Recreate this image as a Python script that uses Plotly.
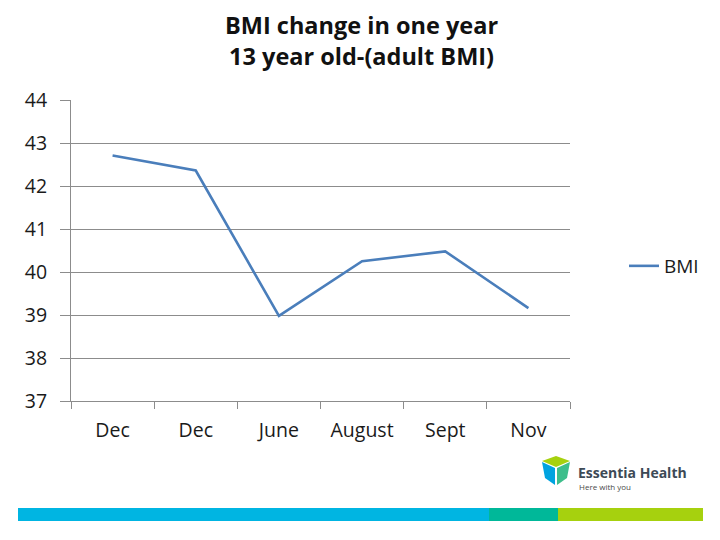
import plotly.graph_objects as go

months = ["Dec", "Dec", "June", "August", "Sept", "Nov"]
bmi = [42.71, 42.36, 38.98, 40.25, 40.48, 39.16]
y_ticks = [37, 38, 39, 40, 41, 42, 43, 44]
series_name = "BMI"
title_lines = ["BMI change in one year", "13 year old-(adult BMI)"]

# unique category keys (duplicate labels kept visually identical)
seen = {}
cats = []
for m in months:
    n = seen.get(m, 0)
    cats.append(m + "\u200b" * n)
    seen[m] = n + 1

FONT = "Open Sans, Lato, sans-serif"
OFF = 8  # page body margin
W, H = 720, 540
# plot area in page pixels
PX0, PX1, PY0, PY1 = 71, 570, 100, 401
L, T = PX0 - OFF, PY0 - OFF
R, B = W - (PX1 - OFF), H - (PY1 - OFF)
PW, PH = PX1 - PX0, PY1 - PY0


def px(xp, yp):
    return (xp - PX0) / PW, (PY1 - yp) / PH


fig = go.Figure()
fig.add_trace(go.Scatter(
    x=cats, y=bmi, mode="lines", name=series_name,
    line=dict(color="#4A7EBB", width=2.6),
))

fig.update_layout(
    width=W, height=H,
    paper_bgcolor="white", plot_bgcolor="white",
    margin=dict(l=L, r=R, t=T, b=B, autoexpand=False),
    font=dict(family=FONT, color="#1a1a1a"),
    showlegend=True,
    legend=dict(x=px(624, 0)[0], y=px(0, 266)[1], xanchor="left", yanchor="middle",
                font=dict(size=19, family=FONT, color="#1a1a1a"),
                bgcolor="rgba(0,0,0,0)", itemwidth=30),
    xaxis=dict(
        type="category", tickson="boundaries",
        range=[-0.5, len(cats) - 0.5],
        tickvals=cats, ticktext=months,
        showgrid=False, showline=True, linecolor="#8c8c8c", linewidth=1,
        ticks="outside", ticklen=7, tickcolor="#8c8c8c",
        tickfont=dict(size=19.5, family=FONT, color="#1a1a1a"),
        ticklabelstandoff=12,
    ),
    yaxis=dict(
        range=[37, 44], tickvals=y_ticks,
        showgrid=True, gridcolor="#8c8c8c", gridwidth=1,
        showline=True, linecolor="#8c8c8c", linewidth=1,
        ticks="outside", ticklen=10, tickcolor="#8c8c8c",
        tickfont=dict(size=19.5, family=FONT, color="#1a1a1a"),
        ticklabelstandoff=9, zeroline=False,
    ),
)

fig.add_annotation(xref="paper", yref="paper", x=px(361, 0)[0], y=px(0, 8)[1],
                   text="<br>".join(f"<b>{t}</b>" for t in title_lines),
                   showarrow=False, align="center",
                   xanchor="center", yanchor="top", borderpad=0,
                   font=dict(size=23.5, family=FONT, color="#111111"))

# bottom colour band
band = [(18, 489, "#00B5E2"), (489, 558, "#00B899"), (558, 703, "#A6D10E")]
for x0, x1, c in band:
    fig.add_shape(type="rect", xref="paper", yref="paper",
                  x0=px(x0, 0)[0], x1=px(x1, 0)[0],
                  y0=px(0, 521)[1], y1=px(0, 508)[1],
                  fillcolor=c, line=dict(width=0), layer="above")


def path(points):
    s = ""
    for i, (a, b) in enumerate(points):
        xx, yy = px(a, b)
        s += ("M" if i == 0 else "L") + f"{xx},{yy} "
    return s + "Z"


# logo icon (simplified cube)
fig.add_shape(type="path", xref="paper", yref="paper",
              path=path([(542, 461), (556, 456), (570, 461), (556, 467)]),
              fillcolor="#A6D10E", line=dict(width=0))
fig.add_shape(type="path", xref="paper", yref="paper",
              path=path([(542, 462), (555, 468), (555, 485), (545, 478)]),
              fillcolor="#00A3E0", line=dict(width=0))
fig.add_shape(type="path", xref="paper", yref="paper",
              path=path([(557, 468), (570, 462), (567, 478), (557, 485)]),
              fillcolor="#3DBE8B", line=dict(width=0))

fig.add_annotation(xref="paper", yref="paper", x=px(576, 0)[0], y=px(0, 472)[1],
                   text="<b>Essentia Health</b>", showarrow=False,
                   xanchor="left", yanchor="middle",
                   font=dict(size=14, family="Open Sans, sans-serif", color="#3d4a56"))
fig.add_annotation(xref="paper", yref="paper", x=px(577, 0)[0], y=px(0, 487)[1],
                   text="Here with you", showarrow=False,
                   xanchor="left", yanchor="middle",
                   font=dict(size=8, family="Open Sans, sans-serif", color="#4a4a4a"))

fig.write_html("out.html")
